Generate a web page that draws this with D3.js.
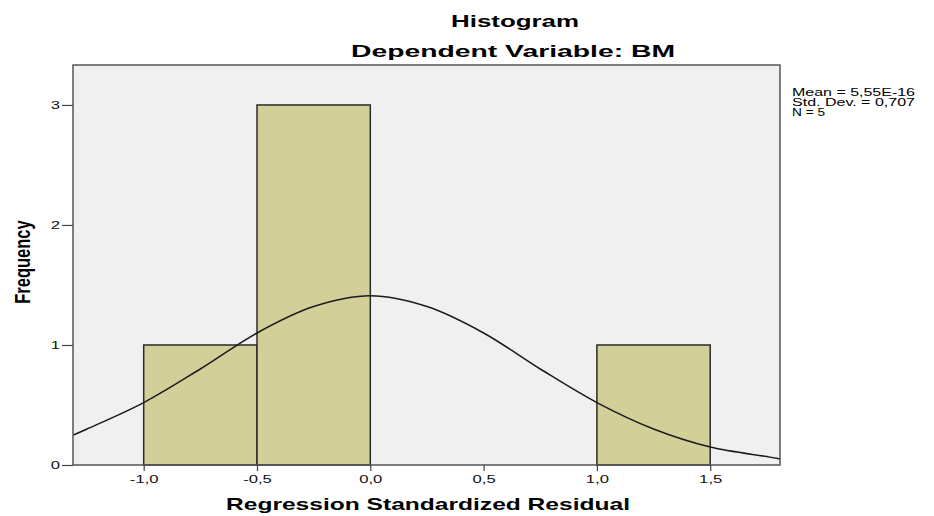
<!DOCTYPE html>
<html lang="en">
<head>
<meta charset="utf-8">
<title>Histogram</title>
<script src="https://d3js.org/d3.v7.min.js"></script>
<style>
  body { margin: 0; background: #fff; }
  svg text { font-family: "Liberation Sans", Arial, sans-serif; fill: #000; }
  .title { font-size: 17px; font-weight: bold; }
  .axis-title { font-size: 17px; font-weight: bold; }
  .ylab { font-size: 16.5px; font-weight: bold; }
  .tick text { font-size: 11.5px; fill: #111; }
  .stats { font-size: 10px; }
</style>
</head>
<body>
<div id="chart"></div>
<script>
// histogram bins (lower edge, upper edge) and counts
var binStart = [-1.0, -0.5, 0.0, 0.5, 1.0];
var binEnd   = [-0.5,  0.0, 0.5, 1.0, 1.5];
var counts   = [1, 3, 0, 0, 1];

// normal curve
var curveX = [-1.31, -1.25, -1.0, -0.75, -0.5, -0.25, 0.0, 0.25, 0.5, 0.75, 1.0, 1.25, 1.5, 1.75, 1.81];
var curveY = [0.25, 0.30, 0.52, 0.80, 1.10, 1.32, 1.41, 1.32, 1.10, 0.80, 0.52, 0.30, 0.15, 0.07, 0.05];

var xTicks = [-1.0, -0.5, 0.0, 0.5, 1.0, 1.5];
var yTicks = [0, 1, 2, 3];
var statLines = ["Mean = 5,55E-16", "Std. Dev. = 0,707", "N = 5"];
var statWidths = [123, 123, 33];

// the original output is stretched sideways, so text gets widened too
var stretch = 1.45;

var W = 934, H = 516;
var margin = { top: 65, right: 154, bottom: 51, left: 73 };
var width = W - margin.left - margin.right,
    height = H - margin.top - margin.bottom;

var svg = d3.select("#chart").append("svg")
    .attr("width", W)
    .attr("height", H);

var g = svg.append("g")
    .attr("transform", "translate(" + margin.left + "," + margin.top + ")");

var xScale = d3.scaleLinear().domain([-1.312, 1.808]).range([0, width]);
var yScale = d3.scaleLinear().domain([0, 3.333]).range([height, 0]);

// plot background
g.append("rect")
    .attr("width", width)
    .attr("height", height)
    .style("fill", "#f0f0f0");

// bars
var bins = counts.map(function(c, i) { return { x0: binStart[i], x1: binEnd[i], n: c }; });
g.selectAll(".bar")
    .data(bins.filter(function(d) { return d.n > 0; }))
    .enter()
    .append("rect")
    .attr("class", "bar")
    .attr("x", function(d) { return xScale(d.x0); })
    .attr("y", function(d) { return yScale(d.n); })
    .attr("width", function(d) { return xScale(d.x1) - xScale(d.x0); })
    .attr("height", function(d) { return yScale(0) - yScale(d.n); })
    .style("fill", "#d3cf98")
    .style("stroke", "#2b2b2b")
    .style("stroke-width", 1.5);

// normal curve
var pts = curveX.map(function(x, i) { return [x, curveY[i]]; });
var line = d3.line()
    .x(function(d) { return xScale(d[0]); })
    .y(function(d) { return yScale(d[1]); })
    .curve(d3.curveCatmullRom);
g.append("path")
    .datum(pts)
    .attr("d", line)
    .style("fill", "none")
    .style("stroke", "#1a1a1a")
    .style("stroke-width", 1.5);

// frame
g.append("rect")
    .attr("width", width)
    .attr("height", height)
    .style("fill", "none")
    .style("stroke", "#555")
    .style("stroke-width", 1.5);

// axes
var xAxis = d3.axisBottom(xScale)
    .tickValues(xTicks)
    .tickSize(6)
    .tickPadding(4)
    .tickFormat(function(d) { return d3.format(".1f")(d).replace(".", ",").replace("−", "-"); });
var xg = g.append("g")
    .attr("class", "x axis")
    .attr("transform", "translate(0," + height + ")")
    .call(xAxis);

var yAxis = d3.axisLeft(yScale)
    .tickValues(yTicks)
    .tickSize(11)
    .tickPadding(-2)
    .tickFormat(d3.format("d"));
var yg = g.append("g")
    .attr("class", "y axis")
    .call(yAxis);

[xg, yg].forEach(function(a) {
    a.select(".domain").remove();
    a.selectAll(".tick line").style("stroke", "#444").style("stroke-width", 1.2);
    a.selectAll(".tick text").attr("transform", "scale(" + stretch + ",1)");
});

// titles
svg.append("text")
    .attr("class", "title")
    .attr("x", 515)
    .attr("y", 27)
    .attr("textLength", 128)
    .attr("lengthAdjust", "spacingAndGlyphs")
    .style("text-anchor", "middle")
    .text("Histogram");
svg.append("text")
    .attr("class", "title")
    .attr("x", 513)
    .attr("y", 57)
    .attr("textLength", 324)
    .attr("lengthAdjust", "spacingAndGlyphs")
    .style("text-anchor", "middle")
    .text("Dependent Variable: BM");

svg.append("text")
    .attr("class", "axis-title")
    .attr("x", 428)
    .attr("y", 510)
    .attr("textLength", 404)
    .attr("lengthAdjust", "spacingAndGlyphs")
    .style("text-anchor", "middle")
    .text("Regression Standardized Residual");

svg.append("text")
    .attr("class", "ylab")
    .attr("transform", "translate(30,262) scale(1.35,1) rotate(-90)")
    .style("text-anchor", "middle")
    .text("Frequency");

// stats box text
svg.selectAll(".stats")
    .data(statLines)
    .enter()
    .append("text")
    .attr("class", "stats")
    .attr("x", 792)
    .attr("y", function(d, i) { return 96 + i * 10; })
    .attr("textLength", function(d, i) { return statWidths[i]; })
    .attr("lengthAdjust", "spacingAndGlyphs")
    .text(function(d) { return d; });
</script>
</body>
</html>
